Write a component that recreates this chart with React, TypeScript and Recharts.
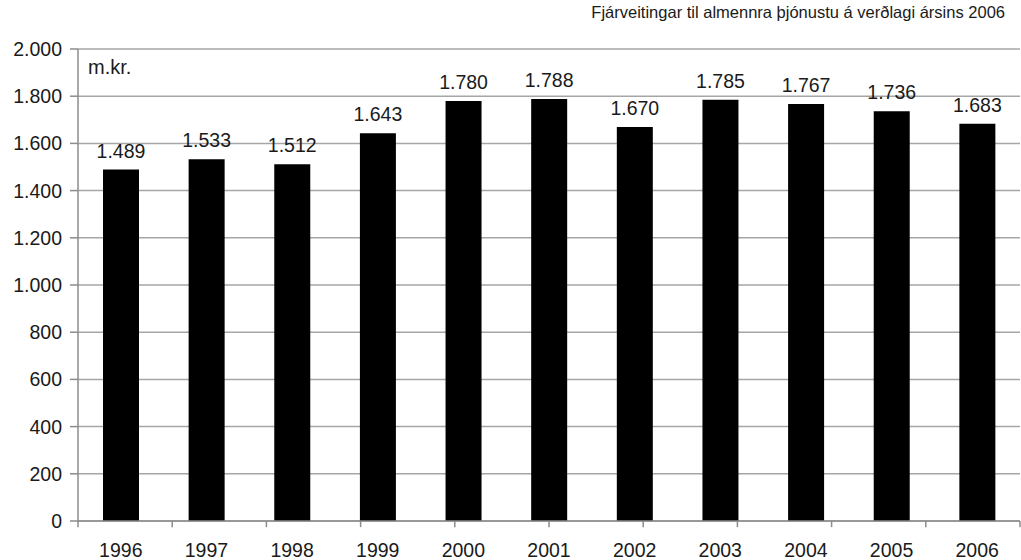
import { BarChart, Bar, XAxis, YAxis, CartesianGrid, LabelList, ReferenceLine } from 'recharts';

const years = ['1996', '1997', '1998', '1999', '2000', '2001', '2002', '2003', '2004', '2005', '2006'];
const values = [1489, 1533, 1512, 1643, 1780, 1788, 1670, 1785, 1767, 1736, 1683];
const yTicks = [0, 200, 400, 600, 800, 1000, 1200, 1400, 1600, 1800, 2000];
// category boundaries for the small x-axis tick marks
const boundaries = [1, 2, 3, 4, 5, 6, 7, 8, 9, 10, 11];

const fmt = (v: number) => String(v).replace(/\B(?=(\d{3})+(?!\d))/g, '.');

const data = years.map((year, i) => ({ year, value: values[i] }));

const font = 'Liberation Sans, Arial, sans-serif';
const textColor = '#1a1a1a';
const axisColor = '#8c8c8c';

export default function App() {
  return (
    <div style={{ position: 'absolute', left: 0, top: 0, width: 1021, height: 560, background: '#fff', fontFamily: font }}>
      <BarChart width={1021} height={560} data={data} margin={{ top: 49, right: 1, left: 0, bottom: 0 }}>
        <CartesianGrid vertical={false} stroke="#a6a6a6" strokeWidth={1.5} />
        <XAxis
          dataKey="year"
          height={39}
          tickLine={false}
          axisLine={{ stroke: axisColor, strokeWidth: 1.5 }}
          tick={{ fontSize: 19.5, fill: textColor, fontFamily: font }}
          tickMargin={16}
        />
        <XAxis xAxisId="marks" type="number" domain={[0, 11]} hide />
        <YAxis
          width={78}
          domain={[0, 2000]}
          ticks={yTicks}
          tickFormatter={fmt}
          tickSize={8}
          tickMargin={8}
          tickLine={{ stroke: axisColor, strokeWidth: 1.5 }}
          axisLine={{ stroke: axisColor, strokeWidth: 1.5 }}
          tick={{ fontSize: 19.5, fill: textColor, fontFamily: font }}
          interval={0}
        />
        {/* small tick marks between the categories, below the axis */}
        {[0, ...boundaries].map((b) => (
          <ReferenceLine
            key={b}
            xAxisId="marks"
            segment={[{ x: b, y: 0 }, { x: b, y: -26 }]}
            stroke={axisColor}
            strokeWidth={1.5}
            ifOverflow="visible"
          />
        ))}
        <Bar dataKey="value" fill="#000" barSize={36} isAnimationActive={false}>
          <LabelList
            dataKey="value"
            position="top"
            offset={12}
            formatter={(v: any) => fmt(Number(v))}
            style={{ fontSize: 19.5, fill: textColor, fontFamily: font }}
          />
        </Bar>
      </BarChart>
      <div style={{ position: 'absolute', left: 88, top: 56, fontSize: 20, color: textColor }}>m.kr.</div>
      <div style={{ position: 'absolute', right: 16, top: 3, fontSize: 16.5, color: textColor, whiteSpace: 'nowrap' }}>
        Fjárveitingar til almennra þjónustu á verðlagi ársins 2006
      </div>
    </div>
  );
}
